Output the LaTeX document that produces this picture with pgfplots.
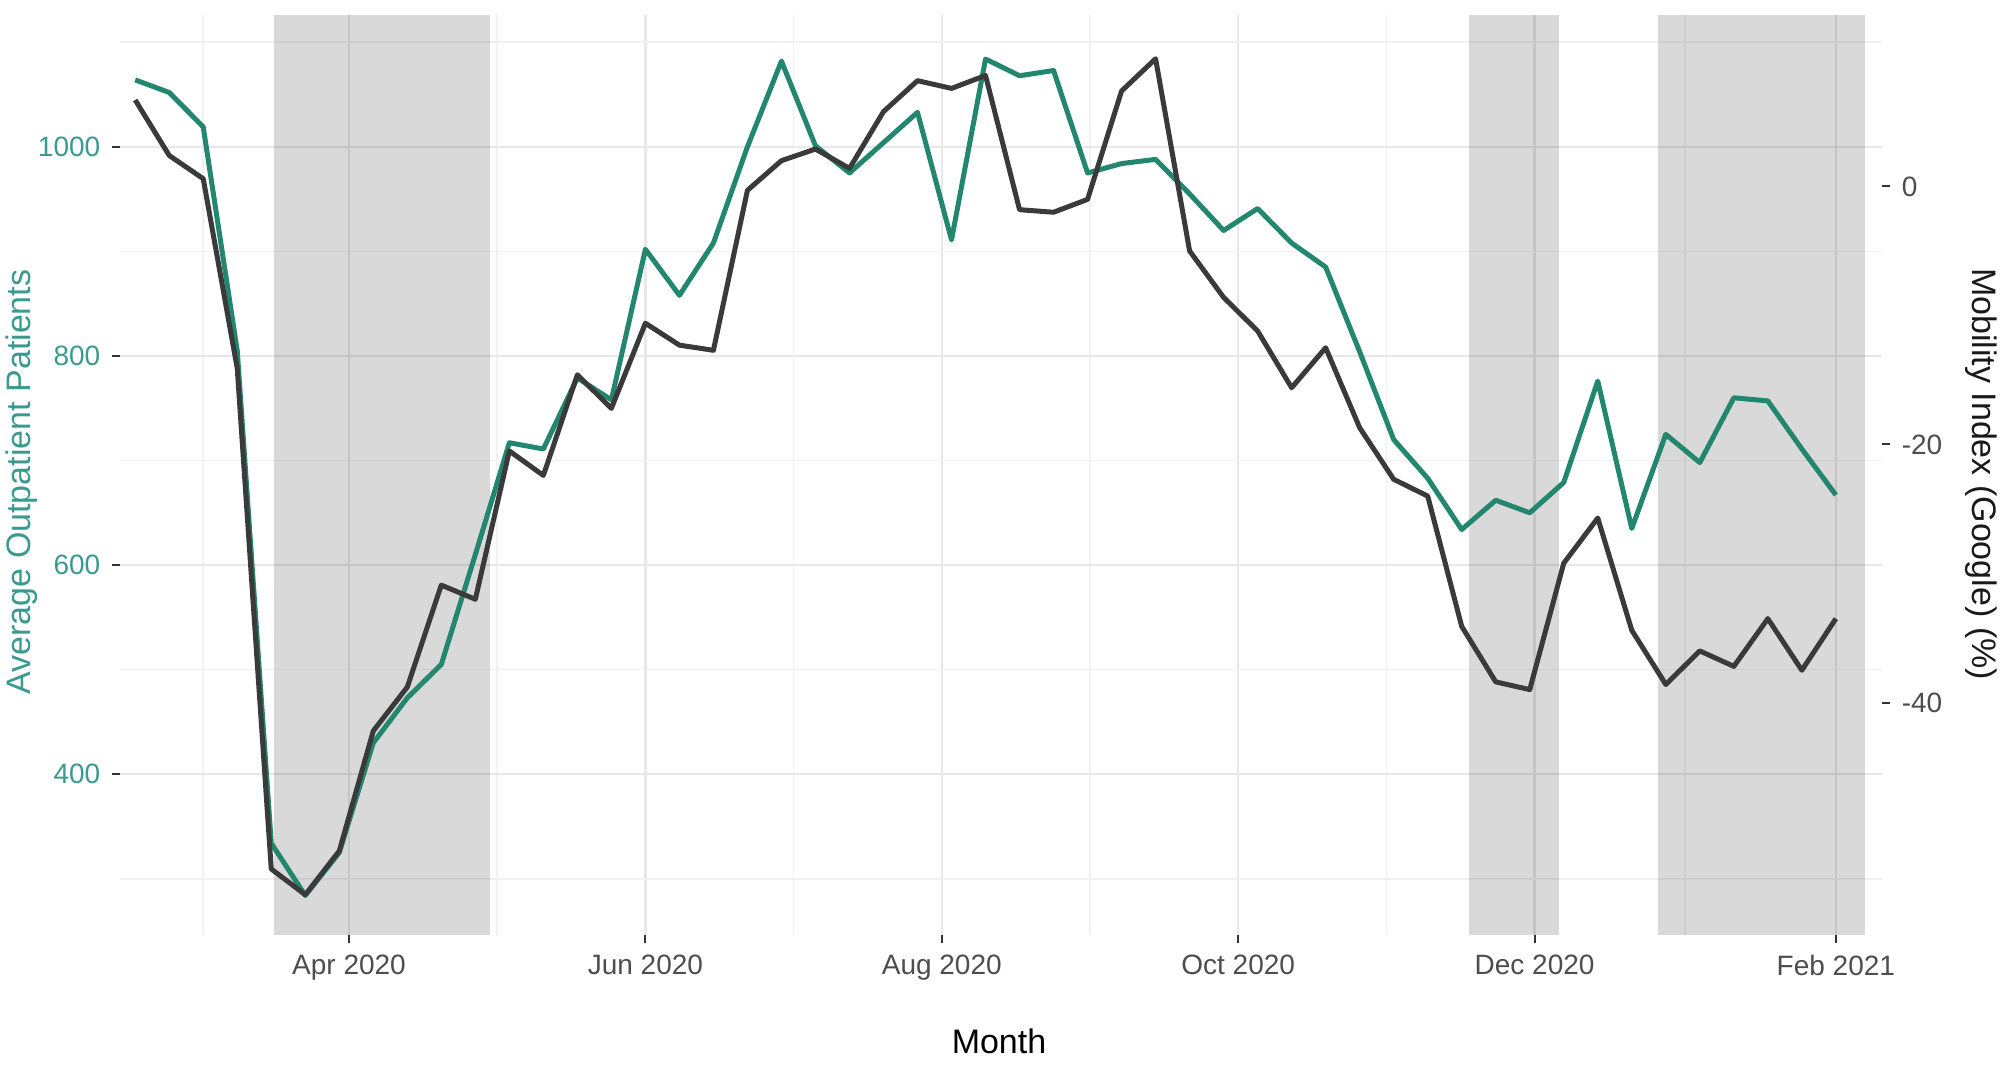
\documentclass[border=0pt]{standalone}
\usepackage{pgfplots}
\pgfplotsset{compat=1.18}
\usepackage{pgfplotstable}
\usepackage{fontspec}
\setmainfont{Liberation Sans}
\definecolor{tealline}{HTML}{23876F}
\definecolor{teallab}{HTML}{3A9A8E}
\definecolor{mob}{HTML}{3A3A3A}
\definecolor{gridc}{HTML}{E8E8E8}
\definecolor{gridm}{HTML}{F1F1F1}
\definecolor{tickc}{HTML}{333333}
\definecolor{labc}{HTML}{4D4D4D}

% day = days since 1 Jan 2020
\pgfplotstableread{
day out
47 1064
54 1052
61 1019
68 805
75 334
82 284
89 325
96 430
103 473
110 505
117 610
124 717
131 711
138 779
145 758
152 902
159 858
166 908
173 1000
180 1082
187 1001
194 975
201 1004
208 1033
215 911
222 1084
229 1068
236 1073
243 975
250 984
257 988
264 955
271 920
278 941
285 908
292 885
299 804
306 720
313 683
320 634
327 662
334 650
341 679
348 776
355 635
362 725
369 698
376 760
383 757
390 711
397 667
}\outdata

\pgfplotstableread{
day mob
47 6.7
54 2.4
61 0.6
68 -14.1
75 -52.9
82 -54.9
89 -51.5
96 -42.2
103 -38.8
110 -30.9
117 -32.0
124 -20.5
131 -22.4
138 -14.6
145 -17.2
152 -10.6
159 -12.3
166 -12.7
173 -0.3
180 2.0
187 2.9
194 1.4
201 5.8
208 8.2
215 7.6
222 8.6
229 -1.8
236 -2.0
243 -1.0
250 7.4
257 9.9
264 -5.0
271 -8.6
278 -11.2
285 -15.6
292 -12.5
299 -18.7
306 -22.7
313 -24.0
320 -34.1
327 -38.4
334 -39.0
341 -29.2
348 -25.7
355 -34.4
362 -38.6
369 -36.0
376 -37.2
383 -33.5
390 -37.5
397 -33.5
}\mobdata

\begin{document}
\begin{tikzpicture}
\useasboundingbox (0,0) rectangle (602.4pt,324.3pt);
\begin{axis}[
  at={(36pt,43.8pt)}, anchor=south west,
  scale only axis, width=528.6pt, height=276pt,
  xmin=43.87, xmax=406.5, ymin=246.2, ymax=1126.1,
  axis line style={draw=none},
  xtick={91,152,213,274,335,397},
  xticklabels={Apr 2020,Jun 2020,Aug 2020,Oct 2020,Dec 2020,Feb 2021},
  minor xtick={61,121.5,182.5,243.5,304.5,366},
  ytick={400,600,800,1000},
  yticklabels={400,600,800,1000},
  minor ytick={300,500,700,900,1100},
  grid=both,
  major grid style={gridc, line width=0.7pt},
  minor grid style={gridm, line width=0.5pt},
  tick align=outside, tick pos=left,
  major tick length=2.4pt, minor tick length=0pt,
  major tick style={tickc, line width=0.6pt},
  ticklabel style={font=\fontsize{8.4}{10}\selectfont},
  xticklabel style={text=labc},
  yticklabel style={text=teallab},
]
\fill[black, opacity=0.15] (axis cs:75.6,246.2) rectangle (axis cs:120.0,1126.1);
\fill[black, opacity=0.15] (axis cs:321.5,246.2) rectangle (axis cs:340.0,1126.1);
\fill[black, opacity=0.15] (axis cs:360.4,246.2) rectangle (axis cs:403.0,1126.1);
\addplot[tealline, line width=1.5pt, line join=round] table[x=day, y=out] {\outdata};
\end{axis}
\begin{axis}[
  at={(36pt,43.8pt)}, anchor=south west,
  scale only axis, width=528.6pt, height=276pt,
  xmin=43.87, xmax=406.5, ymin=-58.02, ymax=13.29,
  hide x axis, axis y line*=right,
  axis line style={draw=none},
  ytick={-40,-20,0}, yticklabels={-40,-20,0},
  tick align=outside,
  major tick length=2.4pt, minor tick length=0pt,
  major tick style={tickc, line width=0.6pt},
  ticklabel style={font=\fontsize{8.4}{10}\selectfont},
  yticklabel style={text=labc, anchor=west},
]
\addplot[mob, line width=1.5pt, line join=round] table[x=day, y=mob] {\mobdata};
\end{axis}
\node[rotate=90, anchor=base, text=teallab, font=\fontsize{10.2}{12}\selectfont] at (9.3pt,179.7pt) {Average Outpatient Patients};
\node[rotate=-90, anchor=base, text=black!90, font=\fontsize{10.2}{12}\selectfont] at (591.6pt,182.1pt) {Mobility Index (Google) (\%)};
\node[anchor=base, font=\fontsize{10.2}{12}\selectfont] at (299.7pt,8.4pt) {Month};
\end{tikzpicture}
\end{document}
